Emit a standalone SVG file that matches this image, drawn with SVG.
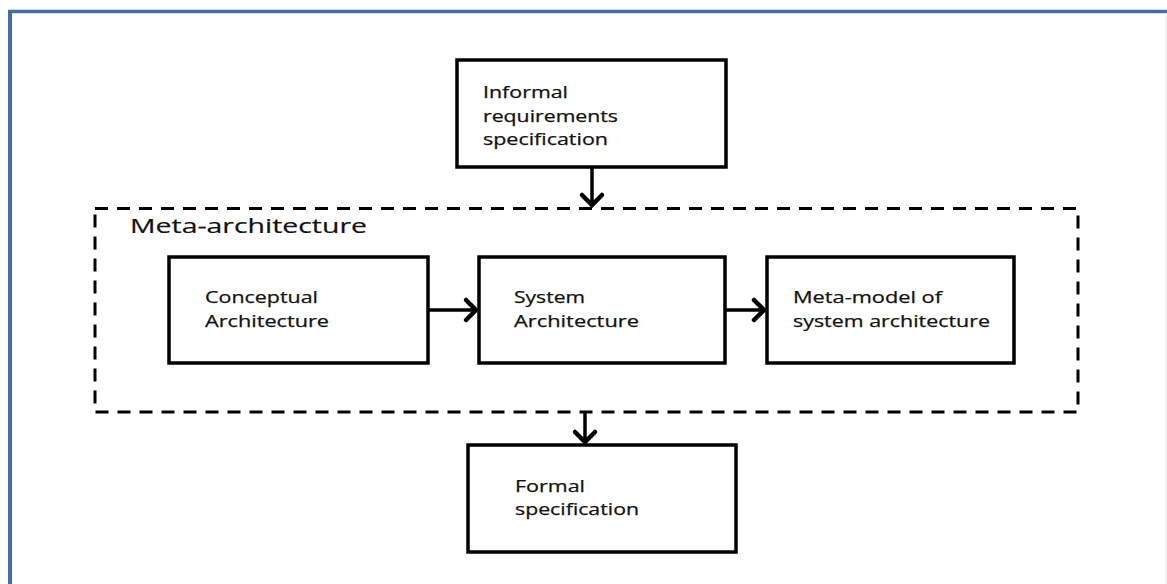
<svg xmlns="http://www.w3.org/2000/svg" width="1167" height="584" viewBox="0 0 1167 584">
<defs>
<style>
.box{fill:#fff;stroke:#000;stroke-width:3.5}
.t{font-family:"Open Sans","Liberation Sans",sans-serif;font-size:16.5px;fill:#111;stroke:#111;stroke-width:0.25}
.big{font-family:"Open Sans","Liberation Sans",sans-serif;font-size:20px;fill:#111;stroke:#111;stroke-width:0.2}
.con{fill:none;stroke:#000;stroke-width:3.5}
.head{fill:none;stroke:#000;stroke-width:4.5;stroke-linecap:round;stroke-linejoin:miter}
</style>
</defs>
<rect width="1167" height="584" fill="#fff"/>
<g id="frame">
<line x1="8" y1="11.5" x2="1167" y2="11.5" stroke="#4a6da0" stroke-width="3.5"/>
<line x1="10" y1="10" x2="10" y2="584" stroke="#4a6da0" stroke-width="4"/>
<line x1="1166" y1="13" x2="1166" y2="584" stroke="#dde6f0" stroke-width="1"/>
</g>
<g id="meta-architecture">
<rect x="95" y="208.5" width="983" height="203.5" fill="none" stroke="#000" stroke-width="3" stroke-dasharray="13 9"/>
<text class="big" x="130" y="233" textLength="237" lengthAdjust="spacingAndGlyphs">Meta-architecture</text>
</g>
<g id="informal">
<rect class="box" x="457" y="60" width="269" height="107"/>
<text class="t" x="483" y="98" textLength="85" lengthAdjust="spacingAndGlyphs">Informal</text>
<text class="t" x="483" y="122" textLength="135" lengthAdjust="spacingAndGlyphs">requirements</text>
<text class="t" x="483" y="145" textLength="125" lengthAdjust="spacingAndGlyphs">specification</text>
</g>
<g id="conceptual">
<rect class="box" x="169" y="257" width="259" height="106"/>
<text class="t" x="205" y="303" textLength="113" lengthAdjust="spacingAndGlyphs">Conceptual</text>
<text class="t" x="205" y="327" textLength="124" lengthAdjust="spacingAndGlyphs">Architecture</text>
</g>
<g id="system">
<rect class="box" x="479" y="257" width="246" height="106"/>
<text class="t" x="514" y="303" textLength="71" lengthAdjust="spacingAndGlyphs">System</text>
<text class="t" x="514" y="327" textLength="125" lengthAdjust="spacingAndGlyphs">Architecture</text>
</g>
<g id="metamodel">
<rect class="box" x="767" y="257" width="247" height="106"/>
<text class="t" x="793" y="303" textLength="149" lengthAdjust="spacingAndGlyphs">Meta-model of</text>
<text class="t" x="793" y="327" textLength="197" lengthAdjust="spacingAndGlyphs">system architecture</text>
</g>
<g id="formal">
<rect class="box" x="468" y="445" width="268" height="107"/>
<text class="t" x="515" y="492" textLength="70" lengthAdjust="spacingAndGlyphs">Formal</text>
<text class="t" x="515" y="515" textLength="124" lengthAdjust="spacingAndGlyphs">specification</text>
</g>
<g id="connectors">
<line class="con" x1="592" y1="167" x2="592" y2="206"/>
<polyline class="head" points="582,195 592,205 602,195"/>
<line class="con" x1="428" y1="310" x2="477" y2="310"/>
<polyline class="head" points="466,300 476,310 466,320"/>
<line class="con" x1="725" y1="310" x2="765" y2="310"/>
<polyline class="head" points="754,300 764,310 754,320"/>
<line class="con" x1="585" y1="412" x2="585" y2="443"/>
<polyline class="head" points="575,432 585,442 595,432"/>
</g>
</svg>
